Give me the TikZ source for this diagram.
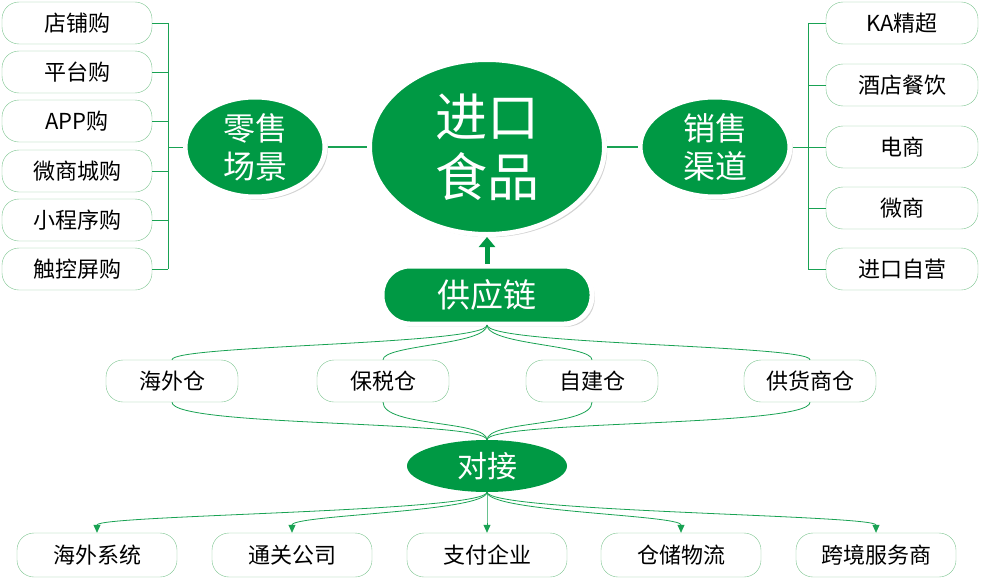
\documentclass[tikz,border=0pt]{standalone}
\usepackage{fontspec}
\setmainfont{Noto Sans CJK SC}
\usetikzlibrary{shapes.geometric,arrows.meta,shadows,calc}
\definecolor{gr}{HTML}{009944}
\definecolor{lg}{HTML}{7CC48F}
\begin{document}
\begin{tikzpicture}[x=1pt,y=-1pt,
  leaf/.style={draw=lg,rounded corners=17pt,minimum height=42pt,fill=white,font=\fontsize{22}{22}\selectfont,inner sep=0pt},
  bigell/.style={ellipse,fill=gr,draw=white,line width=5pt,text=white,drop shadow={opacity=0.35},inner sep=0pt,align=center},
  ln/.style={draw=gr!80!lg,line width=0.8pt},
  ar/.style={ln,-{Triangle[length=8pt,width=7pt]}}]
\useasboundingbox (0,0) rectangle (981,586);
% center
\node[bigell,minimum width=235pt,minimum height=175pt,font=\fontsize{52}{60}\selectfont] (c) at (487,147) {进口\\食品};
\node[bigell,minimum width=140pt,minimum height=100pt,font=\fontsize{32}{38}\selectfont] (l) at (255,147) {零售\\场景};
\node[bigell,minimum width=150pt,minimum height=100pt,font=\fontsize{32}{38}\selectfont] (r) at (715,147) {销售\\渠道};
\draw[ln,line width=1.5pt] (l) -- (c);
\draw[ln,line width=1.5pt] (r) -- (c);
% left leaves
\foreach \t/\y [count=\i] in {店铺购/23,平台购/72,APP购/121,微商城购/171,小程序购/220,触控屏购/269}{
  \node[leaf,minimum width=150pt] (L\i) at (77,\y) {\t};
  \draw[ln] (L\i.east) -- (168,\y);
}
\coordinate (lb) at (168,147);
\draw[ln] (168,23) -- (168,269);
\draw[ln] (lb) -- (l.west);
% right leaves
\foreach \t/\y [count=\i] in {KA精超/23,酒店餐饮/85,电商/147,微商/208,进口自营/269}{
  \node[leaf,minimum width=152pt] (R\i) at (902,\y) {\t};
  \draw[ln] (R\i.west) -- (808,\y);
}
\coordinate (rb) at (808,147);
\draw[ln] (808,23) -- (808,269);
\draw[ln] (rb) -- (r.east);
% supply chain
\node[fill=gr,draw=white,line width=5pt,rounded corners=28pt,minimum width=210pt,minimum height=58pt,text=white,font=\fontsize{33}{33}\selectfont,drop shadow={opacity=0.35}] (s) at (487,295) {供应链};
\draw[gr,line width=5pt,-{Triangle[length=10pt,width=16pt]}] (s.north) -- (c.south);
% warehouses
\foreach \t/\x [count=\i] in {海外仓/172,保税仓/383,自建仓/592,供货商仓/810}{
  \node[leaf,minimum width=132pt] (W\i) at (\x,381) {\t};
}
\node[ellipse,fill=gr,text=white,minimum width=160pt,minimum height=52pt,font=\fontsize{30}{30}\selectfont,inner sep=0pt] (d) at (487,466) {对接};
\coordinate (st) at (487,325);
\coordinate (dt) at (487,440);
\coordinate (db) at (487,492);
\foreach \i in {1,...,4}{
  \draw[ln] (st) .. controls (487,345) and ($(W\i.north)+(0,-15)$) .. (W\i.north);
  \draw[ln] (W\i.south) .. controls ($(W\i.south)+(0,25)$) and (487,420) .. (dt);
}
% bottom
\foreach \t/\x [count=\i] in {海外系统/97,通关公司/292,支付企业/487,仓储物流/681,跨境服务商/876}{
  \node[leaf,minimum width=160pt,minimum height=44pt] (B\i) at (\x,555) {\t};
  \draw[ar] (db) .. controls (487,512) and ($(B\i.north)+(0,-18)$) .. (B\i.north);
}
\end{tikzpicture}
\end{document}
